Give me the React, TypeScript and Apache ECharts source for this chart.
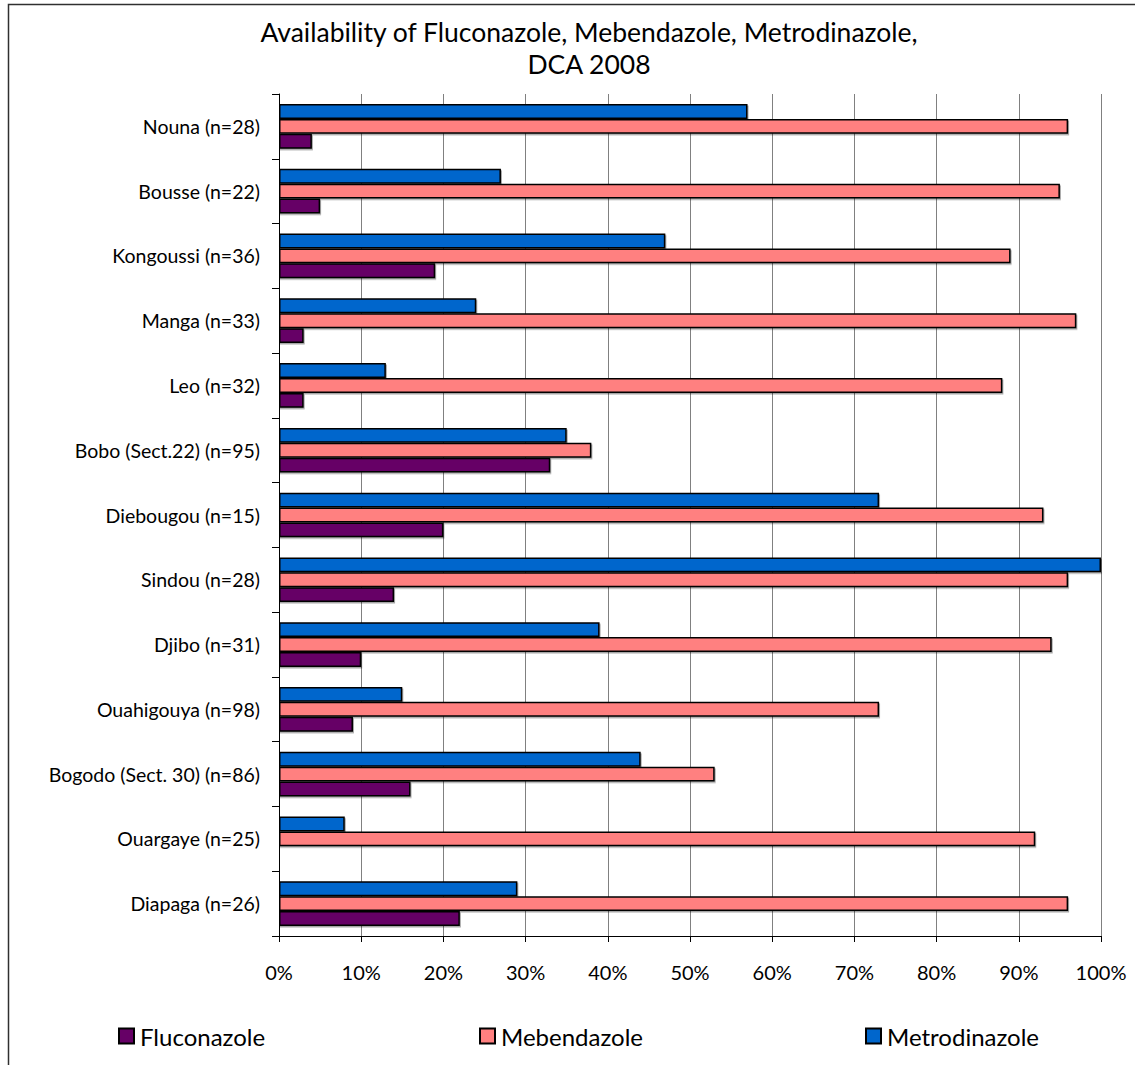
import React, { useEffect, useRef } from "react";
import * as echarts from "echarts";

const categories = [
  "Nouna (n=28)",
  "Bousse (n=22)",
  "Kongoussi (n=36)",
  "Manga (n=33)",
  "Leo (n=32)",
  "Bobo (Sect.22) (n=95)",
  "Diebougou (n=15)",
  "Sindou (n=28)",
  "Djibo (n=31)",
  "Ouahigouya (n=98)",
  "Bogodo (Sect. 30) (n=86)",
  "Ouargaye (n=25)",
  "Diapaga (n=26)",
];

const fluconazole = [4, 5, 19, 3, 3, 33, 20, 14, 10, 9, 16, 0, 22];
const mebendazole = [96, 95, 89, 97, 88, 38, 93, 96, 94, 73, 53, 92, 96];
const metrodinazole = [57, 27, 47, 24, 13, 35, 73, 100, 39, 15, 44, 8, 29];

const xTicks = [0, 10, 20, 30, 40, 50, 60, 70, 80, 90, 100];

const FONT = "Lato";

export default function App() {
  const ref = useRef<HTMLDivElement>(null);
  useEffect(() => {
    if (!ref.current) return;
    const chart = echarts.init(ref.current, undefined, { renderer: "svg" });
    const barStyle = (color: string) => ({
      color,
      borderColor: "#000",
      borderWidth: 1.5,
      shadowColor: "rgba(0,0,0,0.35)",
      shadowOffsetX: 1,
      shadowOffsetY: 1.5,
      shadowBlur: 0,
    });
    const legendCommon = {
      top: 1019,
      itemWidth: 15,
      itemHeight: 15,
      textStyle: { fontFamily: FONT, fontSize: 24, color: "#000", padding: [0, 0, 0, 1] },
      icon: "rect",
    };
    chart.setOption({
      animation: false,
      backgroundColor: "#fff",
      textStyle: { fontFamily: FONT },
      title: {
        text: "Availability of Fluconazole, Mebendazole, Metrodinazole,\nDCA 2008",
        left: 584,
        top: 11,
        textAlign: "center",
        textStyle: { fontFamily: FONT, fontSize: 26.5, fontWeight: "normal", color: "#000", lineHeight: 32 },
      },
      legend: [
        { ...legendCommon, left: 113, data: ["Fluconazole"] },
        { ...legendCommon, left: 474, data: ["Mebendazole"] },
        { ...legendCommon, left: 860, data: ["Metrodinazole"] },
      ],
      graphic: [
        {
          type: "rect",
          shape: { x: 8.5, y: 4.5, width: 1300, height: 1300 },
          style: { fill: "none", stroke: "#303030", lineWidth: 1.5 },
          silent: true,
        },
      ],
      grid: { left: 279, right: 34, top: 94, bottom: 129, containLabel: false },
      xAxis: {
        type: "value",
        min: 0,
        max: 100,
        interval: 10,
        axisLine: { show: true, lineStyle: { color: "#000", width: 1 } },
        axisTick: { show: true, length: 6, lineStyle: { color: "#000" } },
        axisLabel: {
          margin: 26,
          fontFamily: FONT,
          fontSize: 20,
          color: "#000",
          formatter: (v: number) => (xTicks.includes(v) ? v + "%" : ""),
        },
        splitLine: { show: true, lineStyle: { color: "#808080", width: 1 } },
      },
      yAxis: {
        type: "category",
        data: categories,
        inverse: true,
        axisLine: { show: true, lineStyle: { color: "#000", width: 1 } },
        axisTick: { show: true, length: 7, lineStyle: { color: "#000" } },
        axisLabel: { margin: 19, fontFamily: FONT, fontSize: 19.5, color: "#000" },
      },
      series: [
        {
          name: "Metrodinazole",
          type: "bar",
          data: metrodinazole,
          itemStyle: barStyle("#0066CC"),
          barGap: "0%",
          barCategoryGap: "31%",
        },
        {
          name: "Mebendazole",
          type: "bar",
          data: mebendazole,
          itemStyle: barStyle("#FF8080"),
          barGap: "0%",
          barCategoryGap: "31%",
        },
        {
          name: "Fluconazole",
          type: "bar",
          data: fluconazole,
          itemStyle: barStyle("#660066"),
          barGap: "0%",
          barCategoryGap: "31%",
        },
      ],
    });
    return () => chart.dispose();
  }, []);
  return (
    <div
      ref={ref}
      style={{ position: "absolute", left: 0, top: 0, width: 1135, height: 1065 }}
    />
  );
}
